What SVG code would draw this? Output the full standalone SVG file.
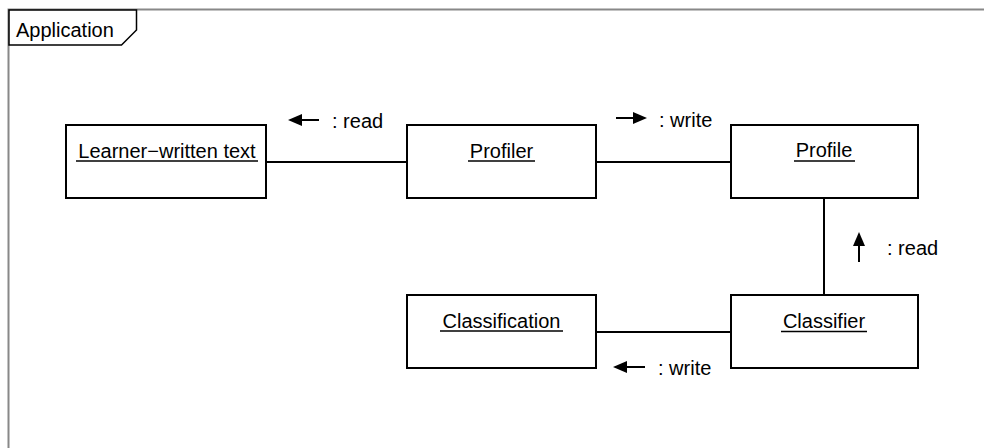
<svg xmlns="http://www.w3.org/2000/svg" width="984" height="448" viewBox="0 0 984 448">
<style>
text{font-family:"Liberation Sans",Arial,sans-serif;font-size:20px;fill:#000}
.box{fill:#fff;stroke:#000;stroke-width:2}
.ul{stroke:#000;stroke-width:1.5}
.conn{stroke:#000;stroke-width:2;fill:none}
.arr{stroke:#000;stroke-width:2}
.head{fill:#000}
</style>
<rect x="8.5" y="9.5" width="1000" height="500" fill="#fff" stroke="#888" stroke-width="2"/>
<g id="frame-label">
<path d="M9 10 H136.5 V30 L121.5 45 H9 Z" fill="#fff" stroke="#000" stroke-width="1.5"/>
<text x="16" y="36.5">Application</text>
</g>
<g id="connectors">
<line class="conn" x1="266" y1="162" x2="407" y2="162"/>
<line class="conn" x1="596" y1="162" x2="731" y2="162"/>
<line class="conn" x1="824" y1="198" x2="824" y2="295"/>
<line class="conn" x1="596" y1="332" x2="731" y2="332"/>
<g id="msg-read-1">
<line class="arr" x1="300" y1="120" x2="319" y2="120"/>
<polygon class="head" points="288,120 302,114 302,126"/>
<text x="332" y="128">: read</text>
</g>
<g id="msg-write-1">
<line class="arr" x1="616" y1="118" x2="635" y2="118"/>
<polygon class="head" points="647,118 633,112 633,124"/>
<text x="659" y="126.5">: write</text>
</g>
<g id="msg-read-2">
<line class="arr" x1="859" y1="244" x2="859" y2="262"/>
<polygon class="head" points="859,232 853,246 865,246"/>
<text x="887" y="255">: read</text>
</g>
<g id="msg-write-2">
<line class="arr" x1="625" y1="367" x2="645" y2="367"/>
<polygon class="head" points="613,367 627,361 627,373"/>
<text x="658" y="375">: write</text>
</g>
</g>
<g id="learner-text">
<rect class="box" x="66" y="125" width="200" height="73"/>
<text x="167" y="157.5" text-anchor="middle">Learner−written text</text>
<line class="ul" x1="76" y1="161" x2="258" y2="161"/>
</g>
<g id="profiler">
<rect class="box" x="407" y="125" width="189" height="73"/>
<text x="501.5" y="157.5" text-anchor="middle">Profiler</text>
<line class="ul" x1="468" y1="161" x2="535" y2="161"/>
</g>
<g id="profile">
<rect class="box" x="731" y="125" width="187" height="73"/>
<text x="824" y="157" text-anchor="middle">Profile</text>
<line class="ul" x1="794" y1="161" x2="855" y2="161"/>
</g>
<g id="classification">
<rect class="box" x="407" y="295" width="189" height="73"/>
<text x="501.5" y="327.5" text-anchor="middle">Classification</text>
<line class="ul" x1="440" y1="331" x2="563" y2="331"/>
</g>
<g id="classifier">
<rect class="box" x="731" y="295" width="187" height="73"/>
<text x="824" y="328" text-anchor="middle">Classifier</text>
<line class="ul" x1="781" y1="331.5" x2="867" y2="331.5"/>
</g>
</svg>
